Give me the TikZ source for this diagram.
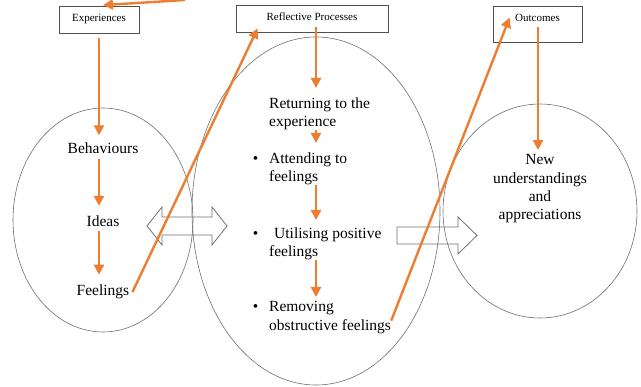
\documentclass[tikz,border=0pt]{standalone}
\usepackage{fontspec}
\setmainfont{Liberation Serif}
\usetikzlibrary{arrows.meta,calc}
\definecolor{orng}{RGB}{237,125,49}
\definecolor{egray}{RGB}{110,110,110}
\definecolor{bgray}{RGB}{80,80,80}
\begin{document}
\begin{tikzpicture}[x=1pt,y=-1pt,
  oline/.style={draw=orng, line width=2.4pt},
  oarr/.style={oline, -{Triangle[length=10pt,width=10pt]}},
  box/.style={draw=bgray, line width=0.8pt, inner sep=0pt, anchor=base, font=\fontsize{11}{13}\selectfont},
  txt/.style={inner sep=0pt, font=\fontsize{15.5}{18.3}\selectfont},
  oval/.style={draw=egray, line width=0.6pt},
  blk/.style={draw=egray, line width=0.8pt, line join=miter}]
\useasboundingbox (0,0) rectangle (641,387);

% ellipses
\draw[oval] (103,220) ellipse [x radius=90pt, y radius=112pt];
\draw[oval] (316,211) ellipse [x radius=124pt, y radius=174pt];
\draw[oval] (540,211) ellipse [x radius=97pt, y radius=107pt];

% block arrows
\draw[blk] (147,226) -- (162,207) -- (162,217) -- (212,217) -- (212,207) -- (227,226)
  -- (212,245) -- (212,235) -- (162,235) -- (162,245) -- cycle;
\draw[blk] (397,227) -- (458,227) -- (458,217) -- (477,235.5) -- (458,254) -- (458,244)
  -- (397,244) -- cycle;

% header boxes
\node[box, minimum width=80pt, text height=15.5pt, text depth=11.5pt] (exp) at (99,22) {Experiences};
\node[box, minimum width=152pt, text height=16pt, text depth=11pt] (rp) at (312,21) {Reflective Processes};
\node[box, minimum width=89pt, text height=16pt, text depth=20pt] (out) at (537.5,22) {Outcomes};

% left texts
\node[txt] (beh) at (103,148) {Behaviours};
\node[txt] (ide) at (103,221) {Ideas};
\node[txt] (fee) at (103,292) {Feelings};

% middle texts
\node[txt, align=left, anchor=north west] (ret) at (269,97.4) {Returning to the\\experience};
\node[txt, align=left, anchor=north west] (att) at (269,152.4) {\llap{\textbullet\hspace{11pt}}Attending to\\feelings};
\node[txt, align=left, anchor=north west] (uti) at (269,227.4) {\llap{\textbullet\hspace{11pt}}\hspace{5pt}Utilising positive\\feelings};
\node[txt, align=left, anchor=north west] (rem) at (269,301.4) {\llap{\textbullet\hspace{11pt}}Removing\\obstructive feelings};

% right text
\node[txt, align=center] (new) at (540,189) {New\\understandings\\and\\appreciations};

\coordinate (lx) at (99,0);
\coordinate (mx) at (316,0);
\coordinate (ox) at (538,0);
\coordinate (src) at (185,0);

% vertical orange arrows
\draw[oarr, shorten <=4.5pt, shorten >=7pt] (exp.south -| lx) -- (beh.north -| lx);
\draw[oarr, shorten <=5.5pt, shorten >=9.5pt] (beh.south -| lx) -- (ide.north -| lx);
\draw[oarr, shorten <=4.5pt, shorten >=10pt] (ide.south -| lx) -- (fee.north -| lx);

\draw[oarr, shorten <=-5pt, shorten >=9.4pt] (rp.south -| mx) -- (ret.north -| mx);
\draw[oarr, shorten >=9.4pt] (ret.south -| mx) -- (att.north -| mx);
\draw[oarr, shorten >=7.4pt] (att.south -| mx) -- (uti.north -| mx);
\draw[oarr, shorten >=4.4pt] (uti.south -| mx) -- (rem.north -| mx);

\draw[oarr, shorten <=-15pt, shorten >=4.6pt] (out.south -| ox) -- (new.north -| ox);

% diagonal orange arrows
\draw[oarr] (src) -- ($(exp.north)+(4,-1)$);
\draw[oarr] ($(fee.east)+(3,0)$) -- ($(rp.south west)+(22,-4)$);
\draw[oarr] ($(rem.south east)+(0,-13)$) -- ($(out.north west)+(17,12)$);
\end{tikzpicture}
\end{document}
